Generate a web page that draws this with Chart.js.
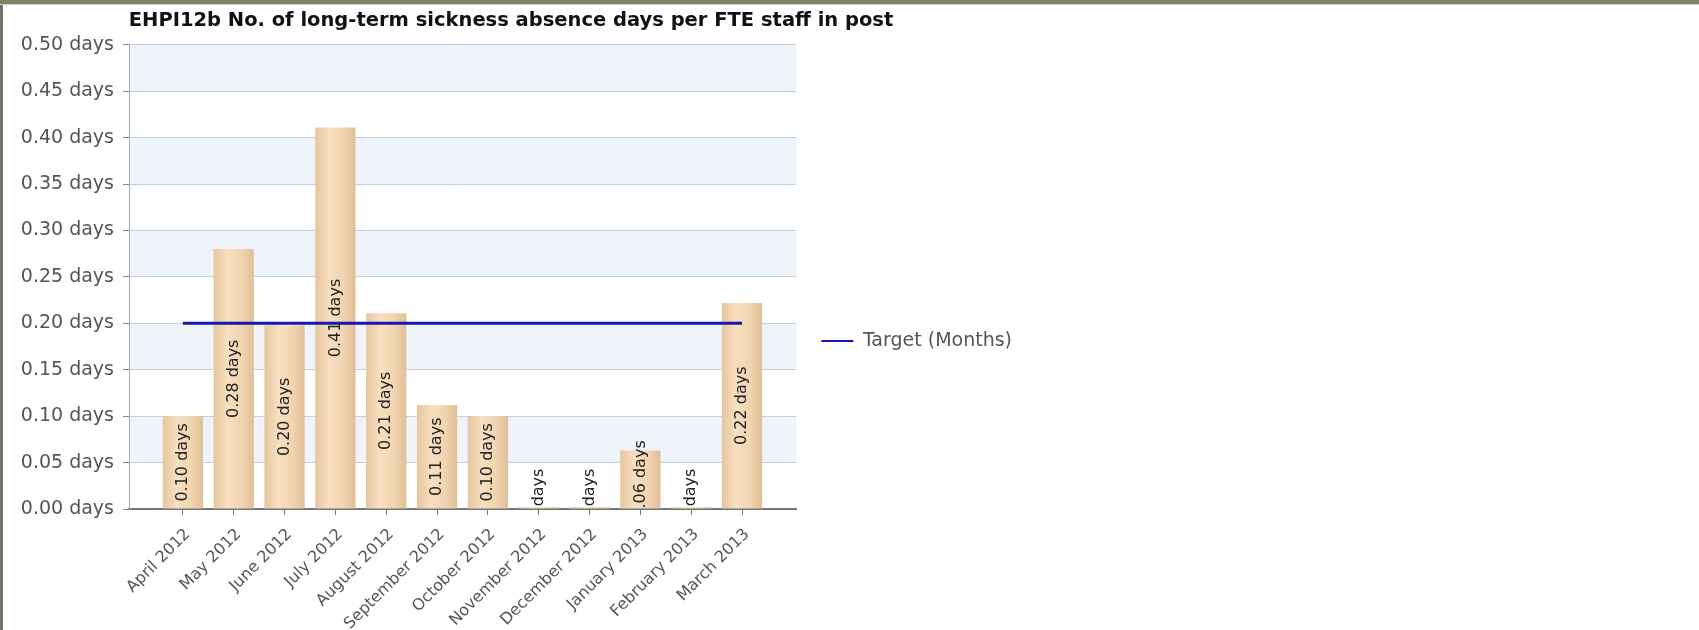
<!DOCTYPE html>
<html>
<head>
<meta charset="utf-8">
<script src="https://cdn.jsdelivr.net/npm/chart.js@4.4.1/dist/chart.umd.min.js"></script>
<style>
  html, body { margin: 0; padding: 0; background: #fff; overflow: hidden; }
  #wrap { position: relative; width: 1699px; height: 630px; }
  #topBorder { position: absolute; left: 0; top: 0; width: 1699px; height: 4px; background: #83806a; border-bottom: 1px solid #d4d1b6; }
  #leftBorder { position: absolute; left: 0; top: 5px; width: 3px; height: 625px; background: #737368; }
</style>
</head>
<body>
<div id="wrap">
  <canvas id="sicknessChart" width="1699" height="630"></canvas>
  <div id="topBorder"></div>
  <div id="leftBorder"></div>
</div>
<script>
// chart data
const chartTitle = 'EHPI12b No. of long-term sickness absence days per FTE staff in post';
const months = ['April 2012', 'May 2012', 'June 2012', 'July 2012', 'August 2012', 'September 2012',
  'October 2012', 'November 2012', 'December 2012', 'January 2013', 'February 2013', 'March 2013'];
const daysPerFte = [0.10, 0.28, 0.198, 0.411, 0.211, 0.112, 0.10, 0.002, 0.002, 0.063, 0.002, 0.222];
const targetDays = [0.2, 0.2, 0.2, 0.2, 0.2, 0.2, 0.2, 0.2, 0.2, 0.2, 0.2, 0.2];
const yTickValues = [0, 0.05, 0.10, 0.15, 0.20, 0.25, 0.30, 0.35, 0.40, 0.45, 0.50];
const targetLabel = 'Target (Months)';

const fmtDays = v => v.toFixed(2) + ' days';

// alternating light blue bands behind the grid
const bandsPlugin = {
  id: 'bands',
  beforeDraw(chart) {
    const { ctx, chartArea, scales } = chart;
    ctx.save();
    ctx.fillStyle = '#eef4fa';
    for (let i = 1; i < yTickValues.length - 1; i += 2) {
      const yTop = scales.y.getPixelForValue(yTickValues[i + 1]);
      const yBot = scales.y.getPixelForValue(yTickValues[i]);
      ctx.fillRect(chartArea.left, yTop, chartArea.right - chartArea.left, yBot - yTop);
    }
    ctx.restore();
  }
};

// vertical value labels in the middle of each bar, clipped to the plot
const barLabelsPlugin = {
  id: 'barLabels',
  afterDatasetsDraw(chart) {
    const { ctx, chartArea } = chart;
    const meta = chart.getDatasetMeta(0);
    ctx.save();
    ctx.beginPath();
    ctx.rect(chartArea.left, chartArea.top, chartArea.right - chartArea.left, chartArea.bottom - chartArea.top);
    ctx.clip();
    ctx.font = '16px "DejaVu Sans"';
    ctx.fillStyle = '#222';
    ctx.textAlign = 'center';
    ctx.textBaseline = 'middle';
    meta.data.forEach((bar, i) => {
      ctx.save();
      ctx.translate(bar.x, (bar.y + bar.base) / 2);
      ctx.rotate(-Math.PI / 2);
      ctx.fillText(fmtDays(daysPerFte[i]), 0, 0);
      ctx.restore();
    });
    ctx.restore();
  }
};

const barFill = (c) => {
  const chart = c.chart;
  const xs = chart.scales.x;
  if (!chart.chartArea || !xs || c.dataIndex === undefined) return '#f2d4ae';
  const cx = xs.getPixelForValue(c.dataIndex);
  const g = chart.ctx.createLinearGradient(cx - 20, 0, cx + 20, 0);
  g.addColorStop(0, '#e6c69e');
  g.addColorStop(0.35, '#f7dfc0');
  g.addColorStop(0.7, '#f1d4b0');
  g.addColorStop(1, '#dfbf98');
  return g;
};

const ctx = document.getElementById('sicknessChart').getContext('2d');

new Chart(ctx, {
  type: 'bar',
  data: {
    datasets: [{
      label: 'Days per FTE',
      data: daysPerFte.map((v, i) => ({ x: i, y: v })),
      backgroundColor: barFill,
      borderWidth: 0,
      categoryPercentage: 0.8,
      barPercentage: 0.99,
      order: 1
    }, {
      type: 'line',
      label: targetLabel,
      data: targetDays.map((v, i) => ({ x: i, y: v })),
      borderColor: '#1616b4',
      backgroundColor: '#1616b4',
      borderWidth: 3,
      pointRadius: 0,
      fill: false,
      order: 0
    }]
  },
  options: {
    responsive: false,
    animation: false,
    layout: { padding: { left: 0, top: 0, bottom: 0, right: 677 } },
    scales: {
      x: {
        type: 'linear',
        offset: false,
        min: -1.06,
        max: 12.07,
        afterBuildTicks: s => { s.ticks = months.map((m, i) => ({ value: i })); },
        afterFit: s => { s.height = 121; },
        ticks: {
          autoSkip: false,
          minRotation: 45,
          maxRotation: 45,
          padding: 10,
          labelOffset: 5,
          color: '#555',
          font: { family: 'DejaVu Sans', size: 16 },
          callback: v => months[v]
        },
        grid: { offset: false, drawOnChartArea: false, drawTicks: true, tickLength: 6, tickColor: '#777' },
        border: { color: '#777', width: 2 }
      },
      y: {
        min: 0,
        max: 0.5,
        afterBuildTicks: s => { s.ticks = yTickValues.map(v => ({ value: v })); },
        afterFit: s => { s.width = 129; },
        ticks: {
          padding: 9,
          color: '#555',
          font: { family: 'DejaVu Sans', size: 19 },
          callback: v => fmtDays(v)
        },
        grid: { color: '#bfd2dd', tickColor: '#888', tickLength: 6 },
        border: { color: '#aaa', width: 1 }
      }
    },
    plugins: {
      title: {
        display: true,
        text: chartTitle,
        align: 'center',
        color: '#111',
        font: { family: 'DejaVu Sans', size: 19.5, weight: 'bold' },
        padding: { top: 9.5, bottom: 12 }
      },
      legend: {
        position: 'right',
        fullSize: false,
        title: { display: true, text: '', padding: { top: 113.6, bottom: 0 } },
        labels: {
          usePointStyle: true,
          pointStyle: 'line',
          pointStyleWidth: 32,
          padding: 25,
          color: '#555',
          font: { family: 'DejaVu Sans', size: 19 },
          filter: item => item.text === targetLabel,
          generateLabels: chart => {
            const items = Chart.defaults.plugins.legend.labels.generateLabels(chart);
            items.forEach(it => { it.lineWidth = 2; });
            return items;
          }
        }
      },
      tooltip: { enabled: false }
    }
  },
  plugins: [bandsPlugin, barLabelsPlugin]
});
</script>
</body>
</html>
